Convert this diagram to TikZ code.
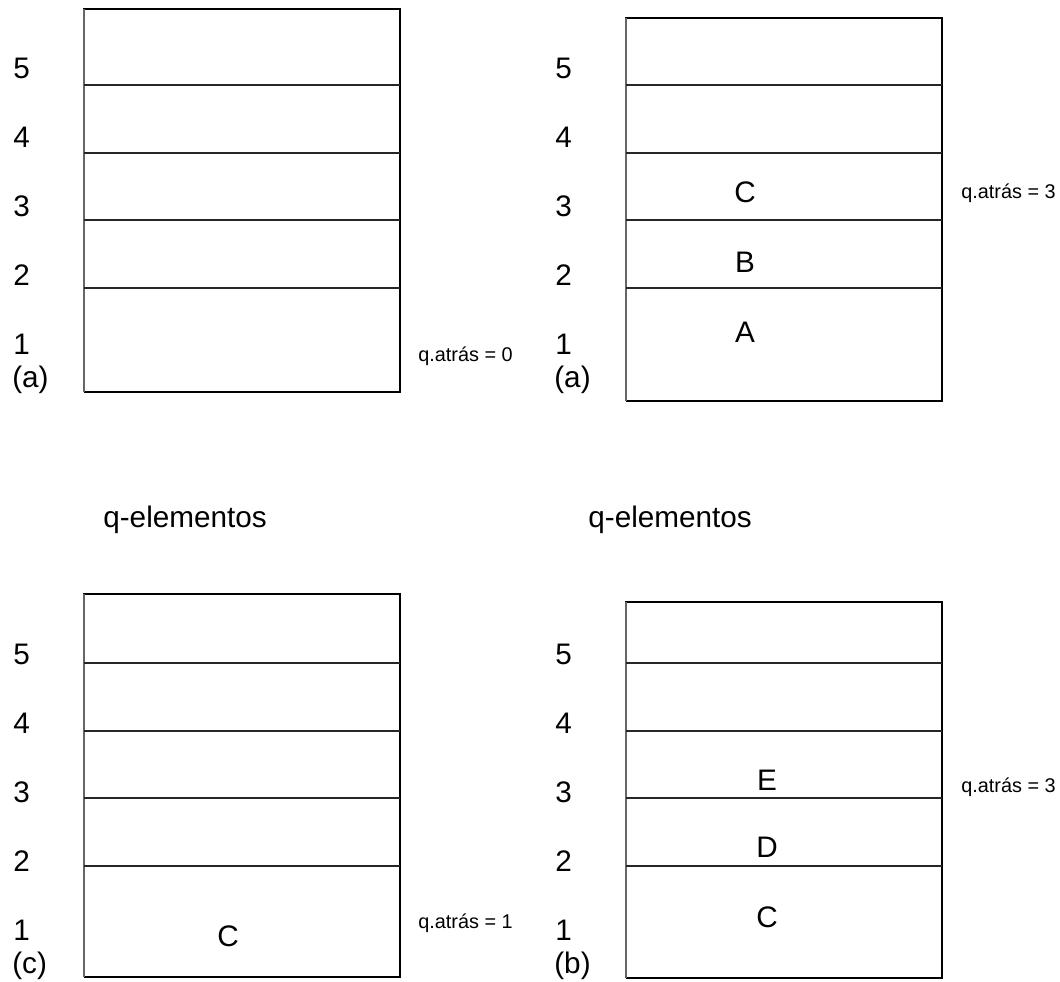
\documentclass[tikz,border=0pt]{standalone}
\usepackage{fontspec}
\setmainfont{Liberation Sans}
\usepackage{tikz}
\usetikzlibrary{positioning}

\begin{document}
\begin{tikzpicture}[x=0.02cm, y=-0.02cm]
    \tikzstyle{frame} = [draw, line width=1.1pt]
    \tikzstyle{slot} = [draw, line width=0.9pt, black!85]
    \tikzstyle{side} = [draw, line width=0.6pt, black!60]
    \tikzstyle{num} = [font=\fontsize{16.9}{20}\selectfont, anchor=west, inner sep=0pt]
    \tikzstyle{item} = [font=\fontsize{16.9}{20}\selectfont, inner sep=0pt]
    \tikzstyle{count} = [font=\fontsize{11.3}{13}\selectfont, anchor=west, inner sep=0pt]
    \tikzstyle{caption} = [font=\fontsize{16.9}{20}\selectfont, anchor=base west, inner sep=0pt]

    \useasboundingbox (0,0) rectangle (1060,981);

    % four queues: frame, slot lines, index column
    \foreach \p/\x/\t/\b/\s/\dy/\ny/\tag in {tl/84/9/392/39/0/0/{(a)}, tr/626/18/401/39/0/0/{(a)},
                                             bl/84/594/977/627/578/586/{(c)}, br/626/602/978/627/578/586/{(b)}} {
        \draw[frame] (\x,\s) -- (\x,\t) -- (\x+316,\t) -- (\x+316,\b) -- (\x,\b);
        \draw[side] (\x,\t) -- (\x,\b);
        \foreach \y in {85,153,220,288}
            \draw[slot] (\x,\y+\dy) -- (\x+316,\y+\dy);
        \foreach \k/\yy in {5/68,4/137,3/206,2/275,1/344}
            \node[num] (\p-\k) at (\x-71,\yy+\ny) {\k};
        \node[num] (\p-tag) at (\x-72,380+\ny) {\tag};
    }

    % contents
    \node[item] (tr-c) at (745,192) {C};
    \node[item] (tr-b) at (745,262) {B};
    \node[item] (tr-a) at (745,332) {A};
    \node[item] (bl-c) at (228,936) {C};
    \node[item] (br-e) at (767,780) {E};
    \node[item] (br-d) at (767,847) {D};
    \node[item] (br-c) at (767,917) {C};

    % rear pointers
    \node[count] (tl-rear) at (418,356) {q.atrás = 0};
    \node[count] (tr-rear) at (961,193) {q.atrás = 3};
    \node[count] (bl-rear) at (418,923) {q.atrás = 1};
    \node[count] (br-rear) at (961,787) {q.atrás = 3};

    \node[caption] (left-cap) at (103,527) {q-elementos};
    \node[caption] (right-cap) at (588,527) {q-elementos};
\end{tikzpicture}
\end{document}
